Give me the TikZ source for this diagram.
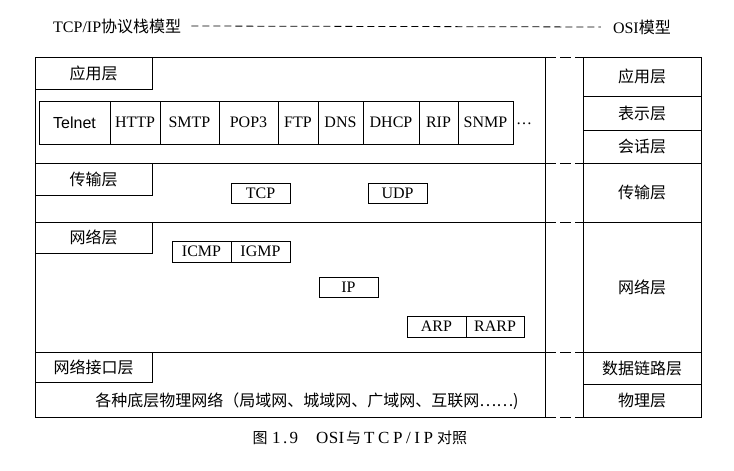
\documentclass[tikz,border=0pt]{standalone}
\usepackage{fontspec}
\setmainfont{Liberation Serif}
\newfontfamily\cjk{Noto Sans CJK SC}
\newfontfamily\sansf{Liberation Sans}
\newcommand\cellbox[6]{\node[cell, minimum width={#4-#2}, minimum height={#5-#3}] (#1) at ({(#2+#4)/2},{(#3+#5)/2}) {#6};}
\begin{document}
\begin{tikzpicture}[x=1pt,y=-1pt,
  cell/.style={draw, line width=0.8pt, inner sep=0pt, outer sep=0pt, font=\fontsize{16}{18}\selectfont},
  plain/.style={inner sep=0pt, font=\fontsize{16}{18}\selectfont},
  link/.style={line width=0.8pt, dash pattern=on 11pt off 4pt},
  hdash/.style={line width=0.8pt, dash pattern=on 7pt off 4pt}]
\useasboundingbox[fill=white] (0,0) rectangle (734,471);
% big TCP/IP box
\cellbox{L}{35}{57}{545}{417}{}
\coordinate (L1l) at (35,163); \coordinate (L1r) at (545,163);
\coordinate (L2l) at (35,222); \coordinate (L2r) at (545,222);
\coordinate (L3l) at (35,352); \coordinate (L3r) at (545,352);
\draw[line width=0.8pt] (L1l) -- (L1r);
\draw[line width=0.8pt] (L2l) -- (L2r);
\draw[line width=0.8pt] (L3l) -- (L3r);
% layer labels
\cellbox{appl}{35}{57}{152}{89}{\cjk 应用层}
\cellbox{trl}{35}{163}{152}{195}{\cjk 传输层}
\cellbox{netl}{35}{222}{152}{253}{\cjk 网络层}
\cellbox{nil}{35}{352}{152}{382}{\cjk 网络接口层}
% application protocols
\cellbox{telnet}{39}{101}{110}{144}{\sansf Telnet}
\cellbox{http}{110}{101}{160}{144}{HTTP}
\cellbox{smtp}{160}{101}{219}{144}{SMTP}
\cellbox{pop}{219}{101}{278}{144}{POP3}
\cellbox{ftp}{278}{101}{318}{144}{FTP}
\cellbox{dns}{318}{101}{363}{144}{DNS}
\cellbox{dhcp}{363}{101}{419}{144}{DHCP}
\cellbox{rip}{419}{101}{458}{144}{RIP}
\cellbox{snmp}{458}{101}{513}{144}{SNMP}
\node[plain] (dots) at (524,124) {\dots};
% transport
\cellbox{tcp}{231}{183}{290}{203}{TCP}
\cellbox{udp}{368}{183}{427}{203}{UDP}
% network
\cellbox{icmp}{172}{241}{231}{262}{ICMP}
\cellbox{igmp}{231}{241}{290}{262}{IGMP}
\cellbox{ip}{319}{277}{378}{297}{IP}
\cellbox{arp}{407}{316}{466}{337}{ARP}
\cellbox{rarp}{466}{316}{524}{337}{RARP}
% physical
\node[plain] (phys) at (307,401) {\cjk 各种底层物理网络（局域网、城域网、广域网、互联网……)};
% OSI column
\cellbox{oapp}{583}{57}{701}{96}{\cjk 应用层}
\cellbox{opre}{583}{96}{701}{130}{\cjk 表示层}
\cellbox{oses}{583}{130}{701}{163}{\cjk 会话层}
\cellbox{otra}{583}{163}{701}{222}{\cjk 传输层}
\cellbox{onet}{583}{222}{701}{352}{\cjk 网络层}
\cellbox{odl}{583}{352}{701}{384}{\cjk 数据链路层}
\cellbox{oph}{583}{384}{701}{417}{\cjk 物理层}
% dashed correspondences
\draw[link] (L.north east) -- (oapp.north west);
\draw[link] (L1r) -- (otra.north west);
\draw[link] (L2r) -- (onet.north west);
\draw[link] (L3r) -- (odl.north west);
\draw[link] (L.south east) -- (oph.south west);
% header
\node[plain, anchor=west] (htcp) at (53,26) {TCP/IP{\cjk 协议栈模型}};
\node[plain, anchor=east] (hosi) at (671,27) {OSI{\cjk 模型}};
\draw[hdash] ([xshift=10pt]htcp.east) -- ([xshift=-12pt]hosi.west);
% caption
\node[plain, anchor=west, font=\fontsize{17}{19}\selectfont] (cap) at (253,438) {%
\makebox[14pt]{\cjk\fontsize{15}{17}\selectfont 图}\hspace{5pt}%
\makebox[26pt][s]{1\hfill.\hfill 9}\hspace{18pt}%
\makebox[28pt][s]{O\hfill S\hfill I}\hspace{3pt}%
\makebox[13pt]{\cjk\fontsize{15}{17}\selectfont 与}\hspace{4pt}%
\makebox[69pt][s]{T\hfill C\hfill P\hfill /\hfill I\hfill P}\hspace{4pt}%
\makebox[30pt][s]{\cjk\fontsize{15}{17}\selectfont 对\hfill 照}};
\end{tikzpicture}
\end{document}
